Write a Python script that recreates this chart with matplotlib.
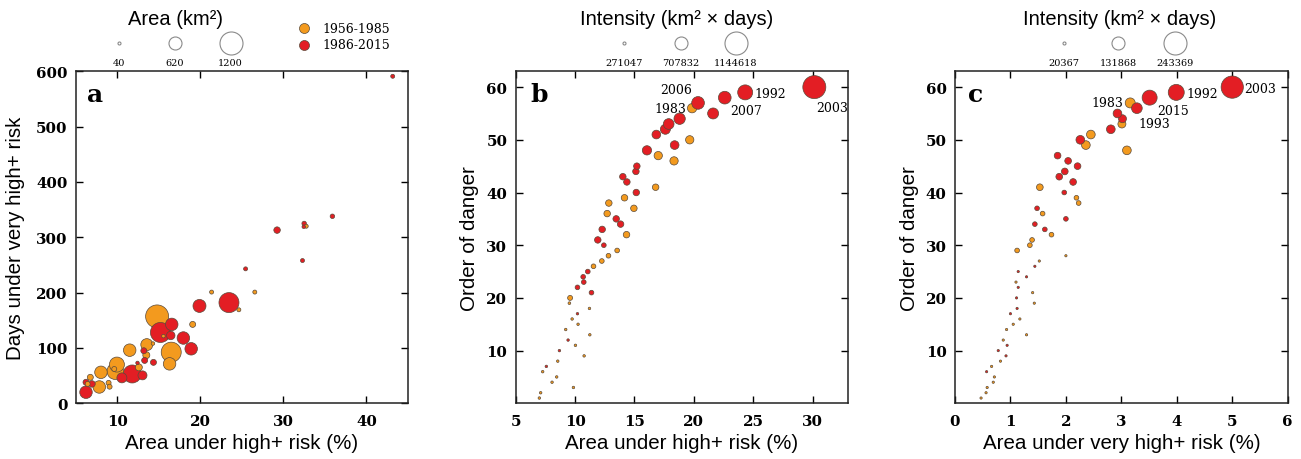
import matplotlib
matplotlib.use("Agg")
import matplotlib.pyplot as plt
import numpy as np

PERIODS = ["1956-1985", "1986-2015"]
COLORS = ["#F39A1E", "#E31E24"]

# ---------------- Panel a: area under high+ risk vs days under very high+ risk
a_x = [43.16, 35.9, 32.5, 32.45, 29.24, 32.3, 25.45, 23.45, 19.9, 16.56, 15.2, 16.44,
       17.96, 18.9, 13.2, 13.3, 14.36, 12.44, 11.8, 10.56, 13.04, 6.24, 6.24, 6.96,
       32.75, 26.56, 21.36, 24.64, 14.8, 19.08, 15.56, 16.5, 16.3, 13.56, 14.3, 11.5,
       13.5, 12.6, 9.96, 9.76, 9.64, 8.04, 7.84, 6.76, 6.44, 8.96, 9.08]
a_y = [591, 338, 325, 319, 313, 258, 243, 182, 176, 142.6, 128, 122.6,
       118, 98.5, 95, 77.5, 74, 73, 53, 46, 50.5, 20, 38, 35,
       320, 201, 201, 169, 157, 142.6, 121.4, 92.4, 71.3, 106, 108, 96,
       87, 65, 70, 58, 62, 56, 29.5, 47, 35, 37, 30]
a_area = [98, 127, 127, 69, 243, 98, 98, 1026, 620, 591, 1026, 359,
          591, 591, 214, 214, 214, 69, 910, 446, 388, 591, 214, 243,
          98, 98, 98, 98, 1200, 214, 69, 1026, 591, 562, 69, 591,
          272, 272, 736, 823, 156, 591, 591, 214, 156, 156, 156]
a_period = [1] * 24 + [0] * 23
a_legend = [40, 620, 1200]

# ---------------- Panel b: area under high+ risk vs order of danger
b_order = list(range(1, 61))
b_x = [6.99, 7.10, 9.86, 8.06, 8.45, 7.27, 7.58, 8.54, 10.76, 8.68, 10.03, 9.41, 11.24,
       9.21, 10.25, 9.75, 10.2, 11.21, 9.52, 9.58, 11.38, 10.2, 10.73, 10.68, 11.07,
       11.55, 12.25, 12.81, 13.54, 12.42, 11.91, 14.33, 12.28, 13.83, 13.46, 12.7,
       14.95, 12.84, 14.16, 15.15, 16.78, 14.36, 14.02, 15.12, 15.2, 18.33, 17.0,
       16.05, 18.38, 19.65, 16.84, 17.6, 17.88, 18.8, 21.62, 19.85, 20.35, 22.6,
       24.32, 30.14]
b_period = [0, 0, 0, 0, 0, 0, 1, 0, 0, 1, 0, 1, 0, 0, 0, 0, 1, 0, 0, 0,
            1, 1, 1, 1, 1, 0, 0, 0, 0, 1, 1, 0, 1, 1, 1, 0, 0, 0, 0, 1,
            0, 1, 1, 1, 1, 0, 0, 1, 1, 0, 1, 1, 1, 1, 1, 0, 1, 1, 1, 1]
b_int = [250000] * 18 + [258000, 358000] + [345000] * 10 + [424000] * 15 + \
        [502500, 502500, 546000, 520000, 502500, 520000, 577000, 607000, 634000,
         620000, 546000, 695000, 695000, 795000, 1144618]
b_labels = {57: ("2006", (-4.3, 9.4), "right"), 56: ("1983", (-4.3, -0.5), "right"),
            59: ("1992", (7.0, -0.7), "left"), 58: ("2007", (3.8, -9.6), "left"),
            60: ("2003", (1.2, -15.0), "left")}
b_legend = [271047, 707832, 1144618]

# ---------------- Panel c: area under very high+ risk vs order of danger
c_order = list(range(1, 61))
c_x = [0.47, 0.56, 0.58, 0.69, 0.71, 0.57, 0.66, 0.82, 0.92, 0.78, 0.94, 0.87, 1.29,
       0.93, 1.05, 1.17, 1.0, 1.12, 1.43, 1.11, 1.40, 1.14, 1.10, 1.29, 1.14, 1.44,
       1.52, 2.0, 1.12, 1.35, 1.39, 1.74, 1.62, 1.44, 2.0, 1.58, 1.48, 2.23, 2.19,
       1.97, 1.53, 2.13, 1.88, 1.98, 2.21, 2.04, 1.85, 3.10, 2.36, 2.26, 2.45, 2.81,
       3.01, 3.02, 2.93, 3.28, 3.16, 3.51, 3.99, 5.0]
c_period = [0, 0, 0, 0, 0, 1, 0, 0, 1, 1, 1, 0, 0, 0, 0, 0, 1, 1, 0, 1,
            0, 1, 0, 1, 1, 1, 0, 0, 0, 0, 0, 0, 1, 1, 1, 0, 1, 0, 0, 1,
            0, 1, 1, 1, 1, 1, 1, 0, 0, 1, 0, 1, 0, 1, 1, 1, 0, 1, 1, 1]
c_int = [12560] * 28 + [39300] * 12 + [61600] * 7 + \
        [83900, 83900, 83900, 83900, 83900, 76100, 76100, 83900, 106200, 98400,
         154200, 165300, 235000]
c_labels = {60: ("2003", (8.9, -0.7), "left"), 59: ("1992", (7.2, -0.7), "left"),
            58: ("2015", (5.3, -9.4), "left"), 54: ("1993", (11.5, -3.6), "left"),
            57: ("1983", (-4.8, 0.0), "right")}
c_legend = [20367, 131868, 243369]

TICK_FONT = dict(family="DejaVu Serif", weight="bold", size=10.8)
LABEL_FONT = dict(family="Liberation Sans", size=14.8)
NUM_FONT = dict(family="DejaVu Serif", size=9)


def size_pts(v, lo, hi):
    d = 3 + 20 * (np.asarray(v, dtype=float) - lo) / (hi - lo)
    d = np.clip(d, 1.8, None)
    return (d * 0.72) ** 2


fig = plt.figure(figsize=(13.01, 4.6), dpi=100)
W, H = 1301, 460
ax_a = fig.add_axes([75.7 / W, (H - 404.3) / H, 332.3 / W, 332 / H])
ax_b = fig.add_axes([515.7 / W, (H - 404.3) / H, 332.6 / W, 332 / H])
ax_c = fig.add_axes([955 / W, (H - 404.3) / H, 332.7 / W, 332 / H])


def style(ax):
    ax.tick_params(direction="in", top=True, right=True, length=5, width=1,
                   colors="black")
    ax.tick_params(axis="x", pad=7.5)
    ax.tick_params(axis="y", pad=6)
    for lab in ax.get_xticklabels() + ax.get_yticklabels():
        lab.set_fontfamily(TICK_FONT["family"])
        lab.set_fontweight(TICK_FONT["weight"])
        lab.set_fontsize(TICK_FONT["size"])
    for sp in ax.spines.values():
        sp.set_linewidth(1.1)
        sp.set_color("#222222")


def draw(ax, x, y, vals, period, lo, hi, order_mode):
    x = np.asarray(x); y = np.asarray(y); vals = np.asarray(vals); period = np.asarray(period)
    if order_mode == "size":
        idx = np.argsort(-vals, kind="stable")
    else:
        idx = np.lexsort((y, period))
    ax.scatter(x[idx], y[idx], s=size_pts(vals[idx], lo, hi),
               c=[COLORS[p] for p in period[idx]], edgecolors="#5a4a3a",
               linewidths=0.5, zorder=3)


def size_legend(ax, title, values, lo, hi, xs, title_x):
    ax.text(title_x, 1.158, title, transform=ax.transAxes, ha="center", va="center",
            fontsize=14.5, family="Liberation Sans")
    for v, xx in zip(values, xs):
        ax.scatter([xx], [1.085], s=size_pts(v, lo, hi), transform=ax.transAxes,
                   facecolors="white", edgecolors="#8a8a8a", linewidths=0.8,
                   clip_on=False)
        ax.text(xx, 1.028, str(v), transform=ax.transAxes, ha="center", va="center",
                family="DejaVu Serif", fontsize=7)


# ---- a
draw(ax_a, a_x, a_y, a_area, a_period, a_legend[0], a_legend[-1], "size")
ax_a.set_xlim(5, 45)
ax_a.set_ylim(0, 600)
ax_a.set_xticks([10, 20, 30, 40])
ax_a.set_yticks(range(0, 601, 100))
ax_a.set_xlabel("Area under high+ risk (%)", **LABEL_FONT, labelpad=4)
ax_a.set_ylabel("Days under very high+ risk", **LABEL_FONT, labelpad=8)
ax_a.text(0.035, 0.911, "a", transform=ax_a.transAxes, fontsize=18,
          family="DejaVu Serif", weight="bold", va="baseline")
size_legend(ax_a, "Area (km\u00b2)", a_legend, a_legend[0], a_legend[-1],
            [0.130, 0.299, 0.466], 0.299)
for i, (lab, yy) in enumerate(zip(PERIODS, [1.130, 1.080])):
    ax_a.scatter([0.687], [yy], s=(10 * 0.72) ** 2, transform=ax_a.transAxes,
                 c=COLORS[i], edgecolors="#5a4a3a", linewidths=0.5, clip_on=False)
    ax_a.text(0.744, yy, lab, transform=ax_a.transAxes, va="center", ha="left",
              **NUM_FONT)
style(ax_a)

# ---- b
draw(ax_b, b_x, b_order, b_int, b_period, b_legend[0], b_legend[-1], "period")
ax_b.set_xlim(5, 33)
ax_b.set_ylim(0, 63)
ax_b.set_xticks([5, 10, 15, 20, 25, 30])
ax_b.set_yticks([10, 20, 30, 40, 50, 60])
ax_b.set_xlabel("Area under high+ risk (%)", **LABEL_FONT, labelpad=4)
ax_b.set_ylabel("Order of danger", **LABEL_FONT, labelpad=5)
ax_b.text(0.043, 0.911, "b", transform=ax_b.transAxes, fontsize=18,
          family="DejaVu Serif", weight="bold", va="baseline")
for k, (txt, off, ha) in b_labels.items():
    ax_b.annotate(txt, xy=(b_x[k - 1], b_order[k - 1]), xytext=off,
                  textcoords="offset points", ha=ha, va="center", **NUM_FONT,
                  annotation_clip=False)
size_legend(ax_b, "Intensity (km\u00b2 \u00d7 days)", b_legend, b_legend[0], b_legend[-1],
            [0.3265, 0.496, 0.662], 0.485)
style(ax_b)

# ---- c
draw(ax_c, c_x, c_order, c_int, c_period, c_legend[0], c_legend[-1], "period")
ax_c.set_xlim(0, 6)
ax_c.set_ylim(0, 63)
ax_c.set_xticks(range(0, 7))
ax_c.set_yticks([10, 20, 30, 40, 50, 60])
ax_c.set_xlabel("Area under very high+ risk (%)", **LABEL_FONT, labelpad=4)
ax_c.set_ylabel("Order of danger", **LABEL_FONT, labelpad=5)
ax_c.text(0.04, 0.911, "c", transform=ax_c.transAxes, fontsize=18,
          family="DejaVu Serif", weight="bold", va="baseline")
for k, (txt, off, ha) in c_labels.items():
    ax_c.annotate(txt, xy=(c_x[k - 1], c_order[k - 1]), xytext=off,
                  textcoords="offset points", ha=ha, va="center", **NUM_FONT,
                  annotation_clip=False)
size_legend(ax_c, "Intensity (km\u00b2 \u00d7 days)", c_legend, c_legend[0], c_legend[-1],
            [0.3285, 0.491, 0.661], 0.494)
style(ax_c)

fig.savefig("out.png", dpi=100)
